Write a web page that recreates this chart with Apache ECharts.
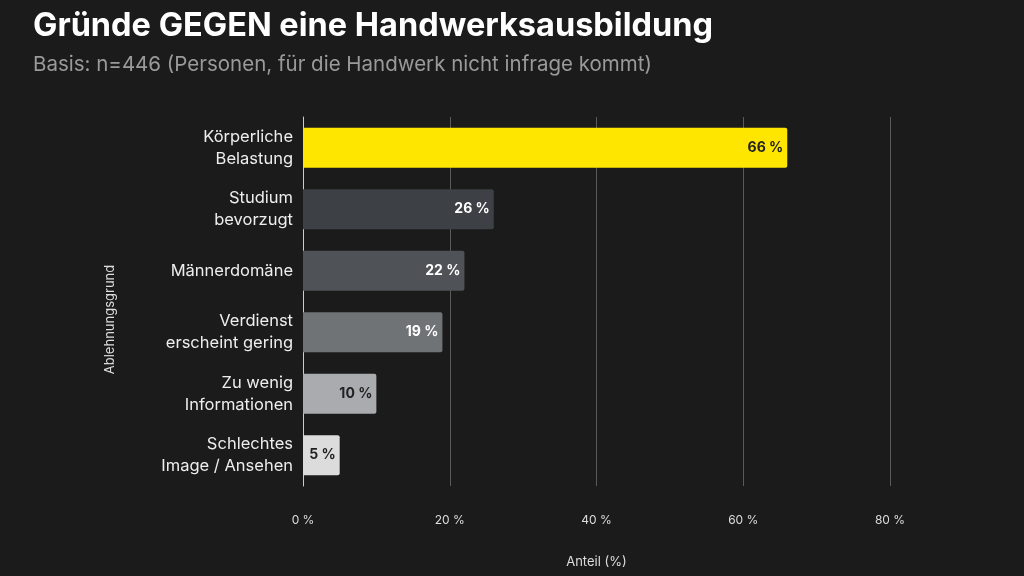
<!DOCTYPE html>
<html lang="de">
<head>
    <meta charset="UTF-8">
    <title>Gründe GEGEN eine Handwerksausbildung</title>
    <style>
        html, body { margin: 0; width: 100%; height: 100%; background: #1b1b1b; }
        #chart { width: 1024px; height: 576px; }
    </style>
</head>
<body>
<div id="chart"></div>
<script src="https://cdn.jsdelivr.net/npm/echarts@6/dist/echarts.min.js"></script>
<script>
    var categories = ['Körperliche\nBelastung', 'Studium\nbevorzugt', 'Männerdomäne', 'Verdienst\nerscheint gering', 'Zu wenig\nInformationen', 'Schlechtes\nImage / Ansehen'];
    var values = [66, 26, 22, 19, 10, 5];
    var barColors = ['#ffe600', '#3d4044', '#4f5256', '#707376', '#a9abae', '#dcdcdd'];
    var labelColors = ['#222222', '#ffffff', '#ffffff', '#ffffff', '#222222', '#222222'];

    var font = 'Inter, "Noto Sans", sans-serif';
    var chart = echarts.init(document.getElementById('chart'));

    var option = {
        backgroundColor: '#1b1b1b',
        title: {
            text: 'Gründe GEGEN eine Handwerksausbildung',
            subtext: 'Basis: n=446 (Personen, für die Handwerk nicht infrage kommt)',
            left: 28, top: 5, itemGap: 11,
            textStyle: { color: '#ffffff', fontSize: 32.5, fontWeight: 'bold', fontFamily: font },
            subtextStyle: { color: '#9a9a9a', fontSize: 20.5, fontFamily: font }
        },
        grid: { left: 303, right: 134, top: 117, bottom: 90 },
        xAxis: {
            type: 'value', min: 0, max: 80, interval: 20,
            name: 'Anteil (%)', nameLocation: 'middle', nameGap: 70,
            nameTextStyle: { color: '#dddddd', fontSize: 13, fontFamily: font },
            axisLabel: { formatter: '{value} %', color: '#dddddd', fontSize: 12, margin: 28, fontFamily: font },
            axisLine: { show: false }, axisTick: { show: false },
            splitLine: { lineStyle: { color: '#5a5a5a', width: 1 } }
        },
        yAxis: {
            type: 'category', data: categories, inverse: true,
            name: 'Ablehnungsgrund', nameLocation: 'middle', nameGap: 186, nameRotate: 90,
            nameTextStyle: { color: '#dddddd', fontSize: 13, fontFamily: font, padding: [0, 36, 0, 0] },
            axisLabel: { color: '#eeeeee', fontSize: 16.5, lineHeight: 22, align: 'right', margin: 10, fontFamily: font },
            axisLine: { lineStyle: { color: '#cccccc', width: 1 } },
            axisTick: { show: false }
        },
        series: [{
            type: 'bar',
            barWidth: 40,
            data: values.map(function (v, i) {
                return {
                    value: v,
                    itemStyle: { color: barColors[i], borderRadius: [0, 2, 2, 0] },
                    label: { color: labelColors[i] }
                };
            }),
            label: {
                show: true, position: 'insideRight', distance: 4,
                formatter: '{c} %', fontSize: 14, fontWeight: 'bold', fontFamily: font
            }
        }]
    };
    chart.setOption(option);
</script>
</body>
</html>
